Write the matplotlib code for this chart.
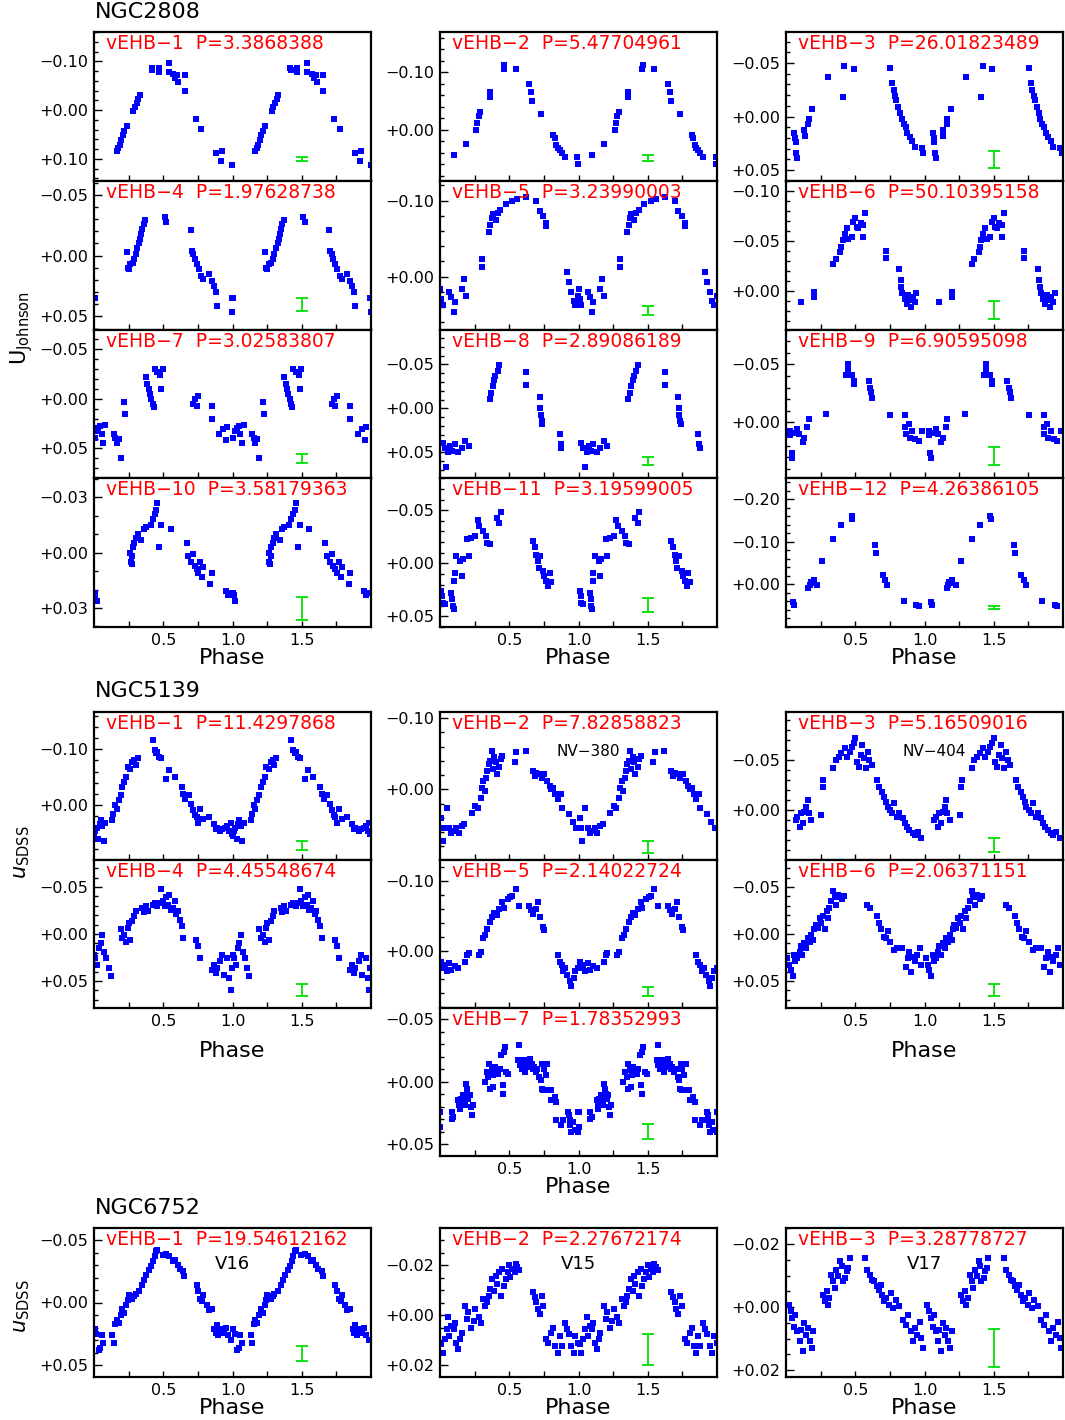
import matplotlib
matplotlib.use("Agg")
import matplotlib.pyplot as plt
from matplotlib.ticker import FixedLocator, FuncFormatter, MultipleLocator

# ---------------- data (phase 0-1, drawn twice) ----------------
n2808_1_ph = [0.164, 0.175, 0.186, 0.197, 0.208, 0.219, 0.236, 0.283, 0.295, 0.307, 0.319, 0.331,
              0.416, 0.42, 0.468, 0.468, 0.541, 0.541, 0.572, 0.585, 0.6, 0.608, 0.656, 0.656,
              0.735, 0.776, 0.884, 0.92, 0.927, 0.997]
n2808_1_mag = [0.084, 0.078, 0.071, 0.062, 0.052, 0.043, 0.032, 0.002, -0.006, -0.014, -0.022, -0.030,
               -0.086, -0.082, -0.086, -0.078, -0.096, -0.078, -0.074, -0.065, -0.071, -0.057, -0.071, -0.040,
               0.019, 0.039, 0.089, 0.105, 0.084, 0.113]

n2808_2_ph = [0.098, 0.186, 0.26, 0.27, 0.28, 0.29, 0.36, 0.36, 0.46, 0.465, 0.548, 0.646, 0.66, 0.665,
              0.73, 0.817, 0.83, 0.84, 0.85, 0.865, 0.88, 0.9, 0.99, 0.995]
n2808_2_mag = [0.044, 0.025, 0.0, -0.012, -0.023, -0.030, -0.056, -0.065, -0.106, -0.112, -0.106, -0.080,
               -0.065, -0.050, -0.028, 0.009, 0.015, 0.026, 0.032, 0.035, 0.041, 0.047, 0.047, 0.059]

n2808_3_ph = [0.06, 0.065, 0.07, 0.075, 0.08, 0.13, 0.135, 0.16, 0.165, 0.19, 0.30, 0.41, 0.42, 0.49,
              0.753, 0.768, 0.778, 0.788, 0.797, 0.812, 0.826, 0.836, 0.851, 0.866, 0.876, 0.895, 0.91,
              0.93, 0.98, 0.99]
n2808_3_mag = [0.015, 0.020, 0.024, 0.034, 0.039, 0.013, 0.018, 0.007, 0.002, -0.007, -0.037, -0.018,
               -0.047, -0.044, -0.045, -0.031, -0.025, -0.019, -0.015, -0.009, -0.003, 0.002, 0.007, 0.010,
               0.015, 0.019, 0.023, 0.028, 0.029, 0.034]

n2808_4_ph = [0.005, 0.237, 0.242, 0.252, 0.262, 0.281, 0.291, 0.301, 0.311, 0.325, 0.335, 0.34, 0.35,
              0.359, 0.369, 0.511, 0.521, 0.70, 0.707, 0.717, 0.727, 0.741, 0.756, 0.775, 0.79, 0.83,
              0.849, 0.863, 0.878, 0.888, 0.996, 0.998]
n2808_4_mag = [0.035, -0.003, 0.010, 0.011, 0.007, 0.006, 0.003, -0.001, -0.006, -0.010, -0.014, -0.018,
               -0.022, -0.026, -0.029, -0.032, -0.028, -0.021, -0.004, -0.001, 0.003, 0.007, 0.011, 0.017,
               0.019, 0.015, 0.021, 0.025, 0.030, 0.041, 0.035, 0.046]

n2808_5_ph = [0.0, 0.01, 0.02, 0.068, 0.083, 0.098, 0.108, 0.157, 0.171, 0.186, 0.303, 0.303, 0.352,
              0.362, 0.372, 0.382, 0.401, 0.416, 0.435, 0.474, 0.523, 0.558, 0.621, 0.695, 0.719, 0.744,
              0.768, 0.768, 0.915, 0.93, 0.949, 0.964, 0.978, 0.998]
n2808_5_mag = [0.016, 0.030, 0.038, 0.021, 0.027, 0.047, 0.034, 0.016, 0.003, 0.025, -0.012, -0.023,
               -0.059, -0.068, -0.077, -0.082, -0.075, -0.083, -0.088, -0.095, -0.100, -0.102, -0.104,
               -0.100, -0.086, -0.079, -0.070, -0.066, -0.006, 0.0075, 0.021, 0.032, 0.038, 0.025]

n2808_6_ph = [0.105, 0.2, 0.2, 0.34, 0.36, 0.39, 0.40, 0.41, 0.425, 0.44, 0.45, 0.475, 0.485, 0.50,
              0.51, 0.523, 0.538, 0.557, 0.572, 0.557, 0.72, 0.72, 0.817, 0.827, 0.832, 0.841, 0.856,
              0.871, 0.881, 0.89, 0.905, 0.915, 0.93, 0.939]
n2808_6_mag = [0.011, 0.001, 0.006, -0.027, -0.032, -0.039, -0.044, -0.051, -0.057, -0.063, -0.052,
               -0.054, -0.069, -0.073, -0.064, -0.063, -0.068, -0.066, -0.078, -0.054, -0.040, -0.033,
               -0.022, -0.011, -0.004, 0.002, 0.008, 0.013, 0.004, 0.009, 0.016, 0.006, 0.011, 0.002]

n2808_7_ph = [0.007, 0.017, 0.032, 0.046, 0.056, 0.066, 0.081, 0.144, 0.154, 0.164, 0.178, 0.193,
              0.218, 0.227, 0.374, 0.384, 0.394, 0.404, 0.413, 0.423, 0.433, 0.438, 0.457, 0.477, 0.487,
              0.497, 0.717, 0.731, 0.751, 0.741, 0.849, 0.849, 0.905, 0.935, 0.955, 0.961]
n2808_7_mag = [0.039, 0.032, 0.029, 0.027, 0.035, 0.044, 0.026, 0.035, 0.039, 0.044, 0.040, 0.060,
               0.003, 0.015, -0.022, -0.015, -0.010, -0.005, 0.0, 0.005, 0.008, -0.030, -0.027, -0.024,
               -0.010, -0.030, 0.005, 0.0, -0.003, 0.007, 0.007, 0.020, 0.035, 0.030, 0.041, 0.028]

n2808_8_ph = [0.02, 0.034, 0.044, 0.059, 0.073, 0.088, 0.108, 0.132, 0.157, 0.181, 0.206, 0.36, 0.37,
              0.38, 0.39, 0.40, 0.416, 0.426, 0.621, 0.621, 0.72, 0.724, 0.729, 0.734, 0.739, 0.866,
              0.871, 0.876]
n2808_8_mag = [0.039, 0.045, 0.067, 0.050, 0.043, 0.048, 0.041, 0.050, 0.045, 0.037, 0.043, -0.011,
               -0.018, -0.026, -0.032, -0.037, -0.043, -0.049, -0.041, -0.027, -0.013, -0.001, 0.007,
               0.014, 0.018, 0.029, 0.041, 0.045]

n2808_9_ph = [0.03, 0.03, 0.04, 0.045, 0.065, 0.08, 0.095, 0.12, 0.13, 0.155, 0.165, 0.29, 0.43, 0.445,
              0.445, 0.475, 0.49, 0.49, 0.597, 0.607, 0.617, 0.621, 0.753, 0.861, 0.861, 0.866, 0.886,
              0.895, 0.91, 0.934, 0.959, 0.983]
n2808_9_mag = [0.007, 0.011, 0.026, 0.031, 0.009, 0.006, 0.010, 0.017, 0.013, 0.004, -0.003, -0.007,
               -0.041, -0.046, -0.050, -0.041, -0.036, -0.033, -0.036, -0.030, -0.026, -0.021, -0.006,
               -0.006, 0.004, 0.010, 0.001, 0.013, 0.007, 0.014, 0.016, 0.007]

n2808_10_ph = [0.005, 0.01, 0.02, 0.262, 0.267, 0.272, 0.276, 0.281, 0.291, 0.301, 0.316, 0.34, 0.36,
               0.374, 0.408, 0.423, 0.438, 0.448, 0.457, 0.472, 0.487, 0.555, 0.668, 0.682, 0.702,
               0.717, 0.727, 0.741, 0.751, 0.766, 0.78, 0.79, 0.849, 0.839, 0.952, 0.966, 0.986]
n2808_10_mag = [0.022, 0.023, 0.026, 0.0, 0.005, 0.006, 0.002, -0.003, -0.005, -0.008, -0.010, -0.007,
                -0.013, -0.014, -0.015, -0.018, -0.021, -0.023, -0.027, -0.003, -0.015, -0.013, -0.005,
                0.002, 0.005, 0.001, 0.007, 0.009, 0.011, 0.005, 0.013, 0.008, 0.011, 0.017, 0.021,
                0.023, 0.022]

n2808_11_ph = [0.01, 0.015, 0.02, 0.034, 0.083, 0.088, 0.093, 0.098, 0.103, 0.108, 0.117, 0.147, 0.157,
               0.166, 0.196, 0.206, 0.225, 0.255, 0.274, 0.284, 0.313, 0.333, 0.342, 0.362, 0.411,
               0.426, 0.44, 0.67, 0.685, 0.695, 0.705, 0.714, 0.724, 0.744, 0.753, 0.768, 0.783,
               0.793, 0.802]
n2808_11_mag = [0.026, 0.031, 0.037, 0.038, 0.028, 0.034, 0.040, 0.043, 0.017, 0.009, -0.007, -0.002,
                0.012, -0.004, -0.023, -0.007, -0.024, -0.026, -0.041, -0.035, -0.030, -0.026, -0.019,
                -0.018, -0.043, -0.038, -0.048, -0.021, -0.015, -0.008, -0.002, 0.004, -0.007, 0.007,
                0.012, 0.017, 0.021, 0.009, 0.018]

n2808_12_ph = [0.05, 0.055, 0.16, 0.17, 0.18, 0.19, 0.20, 0.225, 0.26, 0.34, 0.40, 0.475, 0.48, 0.645,
               0.65, 0.70, 0.715, 0.73, 0.85, 0.94, 0.96]
n2808_12_mag = [0.041, 0.049, 0.010, 0.002, -0.005, -0.002, -0.009, 0.002, -0.054, -0.107, -0.138,
                -0.161, -0.153, -0.091, -0.072, -0.021, -0.009, 0.002, 0.040, 0.049, 0.051]

n5139_1_ph = [0.0, 0.01, 0.02, 0.03, 0.04, 0.05, 0.06, 0.07, 0.08, 0.13, 0.14, 0.154, 0.164, 0.18,
              0.193, 0.203, 0.218, 0.232, 0.242, 0.262, 0.276, 0.291, 0.30, 0.315, 0.423, 0.438, 0.448,
              0.457, 0.472, 0.487, 0.521, 0.545, 0.584, 0.633, 0.643, 0.658, 0.683, 0.702, 0.717,
              0.731, 0.741, 0.751, 0.766, 0.79, 0.83, 0.863, 0.878, 0.888, 0.912, 0.927, 0.947, 0.961,
              0.976, 0.986, 0.995]
n5139_1_mag = [0.056, 0.047, 0.041, 0.062, 0.035, 0.028, 0.038, 0.065, 0.032, 0.028, 0.016, 0.001,
               0.007, -0.008, -0.017, -0.032, -0.041, -0.050, -0.068, -0.065, -0.078, -0.081, -0.072,
               -0.084, -0.117, -0.099, -0.093, -0.096, -0.087, -0.084, -0.047, -0.062, -0.050, -0.032,
               -0.020, -0.011, -0.017, -0.002, 0.010, 0.019, 0.022, 0.032, 0.007, 0.025, 0.022, 0.035,
               0.044, 0.041, 0.047, 0.044, 0.041, 0.038, 0.047, 0.032, 0.053]

n5139_2_ph = [0.01, 0.02, 0.025, 0.049, 0.068, 0.083, 0.098, 0.117, 0.137, 0.157, 0.176, 0.23, 0.254,
              0.274, 0.294, 0.303, 0.313, 0.323, 0.333, 0.342, 0.352, 0.362, 0.372, 0.382, 0.391,
              0.401, 0.411, 0.426, 0.44, 0.45, 0.54, 0.55, 0.62, 0.67, 0.685, 0.695, 0.719, 0.734,
              0.753, 0.773, 0.793, 0.802, 0.817, 0.832, 0.851, 0.871, 0.88, 0.93, 0.96, 0.985]
n5139_2_mag = [0.040, 0.054, 0.073, 0.026, 0.054, 0.061, 0.059, 0.054, 0.061, 0.052, 0.049, 0.033,
               0.023, 0.026, 0.012, -0.002, -0.012, 0.002, -0.016, -0.026, -0.035, -0.040, -0.054,
               -0.028, -0.045, -0.038, -0.021, -0.031, -0.042, -0.047, -0.038, -0.052, -0.054, -0.026,
               -0.019, -0.023, -0.021, -0.016, -0.021, -0.012, -0.005, 0.0, -0.002, 0.007, 0.014,
               0.007, 0.026, 0.035, 0.045, 0.054]

n5139_3_ph = [0.07, 0.083, 0.098, 0.108, 0.122, 0.132, 0.147, 0.157, 0.166, 0.181, 0.255, 0.264,
              0.269, 0.34, 0.36, 0.38, 0.40, 0.425, 0.44, 0.46, 0.475, 0.49, 0.50, 0.51, 0.525, 0.54,
              0.55, 0.56, 0.575, 0.59, 0.60, 0.62, 0.66, 0.675, 0.695, 0.71, 0.724, 0.734, 0.754,
              0.768, 0.783, 0.802, 0.817, 0.842, 0.856, 0.871, 0.89, 0.915, 0.93, 0.95, 0.978]
n5139_3_mag = [0.010, 0.007, 0.017, 0.003, 0.013, 0.002, -0.003, -0.010, 0.003, 0.010, 0.005, -0.023,
               -0.030, -0.042, -0.050, -0.053, -0.057, -0.062, -0.053, -0.058, -0.063, -0.067, -0.072,
               -0.048, -0.043, -0.055, -0.065, -0.052, -0.042, -0.058, -0.050, -0.045, -0.030, -0.023,
               -0.018, -0.013, -0.008, -0.003, 0.0, 0.003, -0.007, 0.007, 0.003, 0.008, 0.013, 0.017,
               0.020, 0.023, 0.025, 0.022, 0.028]

n5139_4_ph = [0.0, 0.01, 0.024, 0.039, 0.049, 0.059, 0.073, 0.088, 0.108, 0.122, 0.193, 0.203, 0.218,
              0.232, 0.242, 0.252, 0.262, 0.276, 0.291, 0.30, 0.35, 0.36, 0.374, 0.389, 0.423, 0.438,
              0.457, 0.472, 0.487, 0.496, 0.511, 0.521, 0.536, 0.545, 0.555, 0.57, 0.584, 0.594,
              0.604, 0.619, 0.633, 0.643, 0.74, 0.751, 0.766, 0.849, 0.863, 0.878, 0.888, 0.912,
              0.927, 0.937, 0.961, 0.976, 0.986, 0.995]
n5139_4_mag = [0.022, 0.026, 0.033, 0.015, 0.010, 0.001, 0.019, 0.026, 0.036, 0.045, -0.005, 0.004,
               0.001, 0.008, -0.006, -0.012, 0.006, -0.014, -0.019, -0.024, -0.028, -0.023, -0.030,
               -0.024, -0.031, -0.033, -0.030, -0.033, -0.048, -0.035, -0.030, -0.039, -0.031, -0.042,
               -0.026, -0.028, -0.035, -0.021, -0.024, -0.015, -0.008, 0.004, 0.006, 0.013, 0.026,
               0.038, 0.033, 0.042, 0.036, 0.029, 0.022, 0.044, 0.026, 0.047, 0.060, 0.036]

n5139_5_ph = [0.01, 0.02, 0.034, 0.049, 0.068, 0.083, 0.108, 0.132, 0.181, 0.196, 0.206, 0.279, 0.294,
              0.313, 0.328, 0.342, 0.362, 0.377, 0.391, 0.411, 0.426, 0.45, 0.46, 0.489, 0.509, 0.523,
              0.548, 0.572, 0.646, 0.66, 0.675, 0.695, 0.709, 0.724, 0.744, 0.753, 0.851, 0.866,
              0.88, 0.89, 0.905, 0.92, 0.939, 0.949, 0.964, 0.978, 0.998]
n5139_5_mag = [0.015, 0.024, 0.020, 0.029, 0.017, 0.027, 0.022, 0.024, 0.015, 0.006, 0.003, 0.006,
               0.001, -0.018, -0.023, -0.032, -0.041, -0.048, -0.055, -0.051, -0.060, -0.070, -0.062,
               -0.074, -0.077, -0.079, -0.088, -0.065, -0.065, -0.058, -0.053, -0.060, -0.070, -0.048,
               -0.034, -0.030, 0.006, 0.015, 0.020, 0.029, 0.024, 0.034, 0.043, 0.050, 0.039, 0.029,
               0.024]

n5139_6_ph = [0.01, 0.024, 0.034, 0.049, 0.059, 0.068, 0.083, 0.098, 0.108, 0.117, 0.132, 0.147,
              0.157, 0.171, 0.181, 0.196, 0.205, 0.215, 0.23, 0.245, 0.254, 0.264, 0.279, 0.294,
              0.303, 0.313, 0.328, 0.342, 0.352, 0.362, 0.377, 0.391, 0.401, 0.416, 0.587, 0.607,
              0.655, 0.67, 0.685, 0.705, 0.719, 0.734, 0.753, 0.783, 0.802, 0.841, 0.866, 0.88, 0.89,
              0.905, 0.915, 0.93, 0.949, 0.964, 0.978]
n5139_6_mag = [0.026, 0.033, 0.038, 0.045, 0.022, 0.029, 0.026, 0.019, 0.013, 0.022, 0.010, 0.015,
               0.004, 0.008, 0.001, 0.006, -0.005, -0.010, -0.006, -0.017, -0.012, -0.019, -0.005,
               -0.024, -0.017, -0.028, -0.035, -0.046, -0.039, -0.031, -0.042, -0.039, -0.037, -0.040,
               -0.031, -0.028, -0.019, -0.012, -0.005, 0.003, 0.004, -0.003, 0.008, 0.017, 0.015,
               0.015, 0.035, 0.026, 0.019, 0.040, 0.024, 0.029, 0.022, 0.015, 0.033]

n5139_7_ph = [0.0, 0.0, 0.084, 0.084, 0.096, 0.132, 0.139, 0.144, 0.151, 0.156, 0.163, 0.173, 0.18,
              0.187, 0.192, 0.197, 0.204, 0.216, 0.228, 0.235, 0.221, 0.324, 0.336, 0.348, 0.356,
              0.36, 0.372, 0.38, 0.384, 0.396, 0.408, 0.42, 0.432, 0.444, 0.452, 0.456, 0.461, 0.468,
              0.48, 0.492, 0.572, 0.564, 0.576, 0.589, 0.596, 0.605, 0.615, 0.625, 0.637, 0.649,
              0.661, 0.668, 0.677, 0.692, 0.702, 0.716, 0.726, 0.74, 0.75, 0.764, 0.733, 0.745, 0.774,
              0.781, 0.798, 0.805, 0.829, 0.841, 0.841, 0.877, 0.889, 0.925, 0.932, 0.937, 0.942,
              0.949, 0.961, 0.973, 0.997, 0.999]
n5139_7_mag = [0.024, 0.036, 0.024, 0.030, 0.028, 0.015, 0.019, 0.022, 0.014, 0.016, 0.011, 0.015,
               0.019, 0.002, 0.006, 0.010, 0.014, 0.011, 0.027, 0.019, 0.020, 0.000, -0.008, -0.004,
               -0.014, 0.006, -0.009, 0.004, -0.005, -0.012, -0.009, -0.006, -0.010, -0.021, 0.003,
               0.010, -0.024, -0.028, -0.008, -0.006, -0.029, -0.017, -0.013, -0.010, -0.014, -0.017,
               -0.008, -0.012, -0.016, -0.018, -0.014, -0.010, -0.012, -0.008, -0.010, -0.004, -0.001,
               -0.014, -0.010, -0.005, 0.006, 0.007, -0.014, 0.007, 0.007, 0.015, 0.012, 0.016, 0.031,
               0.035, 0.031, 0.024, 0.027, 0.031, 0.035, 0.040, 0.032, 0.039, 0.040, 0.024]

n6752_1_ph = [0.007, 0.017, 0.035, 0.046, 0.056, 0.066, 0.13, 0.144, 0.154, 0.164, 0.178, 0.193,
              0.203, 0.218, 0.232, 0.242, 0.252, 0.276, 0.291, 0.301, 0.325, 0.35, 0.364, 0.379,
              0.399, 0.413, 0.428, 0.438, 0.448, 0.457, 0.496, 0.521, 0.545, 0.57, 0.584, 0.604,
              0.619, 0.643, 0.653, 0.741, 0.751, 0.766, 0.78, 0.79, 0.815, 0.829, 0.849, 0.868,
              0.878, 0.888, 0.898, 0.912, 0.937, 0.952, 0.966, 0.986]
n6752_1_mag = [0.021, 0.025, 0.038, 0.036, 0.026, 0.032, 0.026, 0.032, 0.017, 0.014, 0.016, 0.010,
               0.005, 0.008, 0.002, -0.002, -0.006, -0.003, -0.005, -0.007, -0.009, -0.014, -0.018,
               -0.022, -0.026, -0.029, -0.033, -0.037, -0.041, -0.042, -0.038, -0.039, -0.037,
               -0.033, -0.034, -0.030, -0.027, -0.025, -0.021, -0.014, -0.009, -0.003, -0.001, -0.006,
               0.002, 0.006, 0.005, 0.021, 0.024, 0.018, 0.026, 0.021, 0.024, 0.020, 0.026, 0.030]

n6752_2_ph = [0.01, 0.02, 0.034, 0.049, 0.059, 0.068, 0.083, 0.098, 0.108, 0.117, 0.132, 0.147,
              0.157, 0.181, 0.196, 0.205, 0.225, 0.245, 0.254, 0.279, 0.294, 0.313, 0.328, 0.342,
              0.352, 0.362, 0.377, 0.391, 0.401, 0.411, 0.426, 0.44, 0.45, 0.46, 0.474, 0.489, 0.499,
              0.509, 0.523, 0.538, 0.548, 0.558, 0.572, 0.67, 0.685, 0.695, 0.705, 0.719, 0.734, 0.744,
              0.768, 0.783, 0.802, 0.817, 0.832, 0.851, 0.866, 0.88, 0.9, 0.915, 0.93, 0.949, 0.964,
              0.978, 0.998]
n6752_2_mag = [0.0117, 0.0150, 0.0097, 0.0056, 0.0009, 0.0083, 0.0043, 0.0056, 0.0030, 0.0110,
               0.0137, 0.0097, 0.0070, -0.0038, 0.0016, -0.0011, 0.0050, 0.0023, -0.0024, 0.0009,
               0.0030, -0.0064, -0.0038, -0.0051, -0.0078, -0.0105, -0.0145, -0.0098, -0.0158,
               -0.0125, -0.0172, -0.0078, -0.0185, -0.0118, -0.0145, -0.0172, -0.0199, -0.0151,
               -0.0185, -0.0172, -0.0205, -0.0192, -0.0179, -0.0091, -0.0071, -0.0051, -0.0024,
               -0.0004, -0.0078, -0.0038, 0.0097, 0.0110, 0.0070, 0.0050, 0.0123, 0.0150, 0.0083,
               0.0124, 0.0030, 0.0056, 0.0077, 0.0124, 0.0150, 0.0083, 0.0110]

n6752_3_ph = [0.02, 0.034, 0.044, 0.059, 0.068, 0.083, 0.098, 0.108, 0.122, 0.132, 0.147, 0.157,
              0.171, 0.186, 0.196, 0.264, 0.279, 0.294, 0.303, 0.313, 0.328, 0.342, 0.352, 0.362,
              0.377, 0.391, 0.401, 0.411, 0.426, 0.44, 0.45, 0.46, 0.572, 0.587, 0.607, 0.621, 0.636,
              0.655, 0.67, 0.685, 0.695, 0.709, 0.724, 0.744, 0.758, 0.773, 0.793, 0.817, 0.842,
              0.866, 0.88, 0.9, 0.915, 0.93, 0.949, 0.964, 0.978, 0.988]
n6752_3_mag = [-0.0007, 0.0014, 0.0035, 0.0062, 0.0024, 0.0077, 0.0109, 0.0072, 0.0141, 0.0051,
               0.0088, 0.0067, 0.0109, 0.0130, 0.0077, -0.0039, -0.0018, -0.0050, -0.0007, -0.0029,
               -0.0103, -0.0082, -0.0060, -0.0119, -0.0098, -0.0145, -0.0129, -0.0082, -0.0092,
               -0.0114, -0.0124, -0.0156, -0.0156, -0.0119, -0.0103, -0.0087, -0.0082, -0.0066,
               -0.0055, -0.0071, -0.0039, -0.0018, -0.0029, -0.0007, -0.0045, 0.0003, -0.0023,
               -0.0002, 0.0040, 0.0056, 0.0024, 0.0077, 0.0109, 0.0067, 0.0088, 0.0046, 0.0099, 0.0130]

# ---------------- layout ----------------
W, H = 1065, 1420
cols = [94, 440, 786]
pw = 277
BLUE = '#0000ff'
GREEN = '#00e000'
RED = '#ff0000'

# (name, P, ph, mag, col, top, bottom, ylim(bottom, top), yticks, minor, err_c, err_h,
#  Phase labelpad (None = no x labels), note)
panels = [
    ('vEHB−1', '3.3868388', n2808_1_ph, n2808_1_mag, 0, 32, 180.75, (0.145, -0.16), [-0.1, 0.0, 0.1], 0.02, 0.100, 0.004, None, None),
    ('vEHB−2', '5.47704961', n2808_2_ph, n2808_2_mag, 1, 32, 180.75, (0.089, -0.170), [-0.1, 0.0], 0.02, 0.049, 0.005, None, None),
    ('vEHB−3', '26.01823489', n2808_3_ph, n2808_3_mag, 2, 32, 180.75, (0.060, -0.079), [-0.05, 0.0, 0.05], 0.01, 0.040, 0.008, None, None),
    ('vEHB−4', '1.97628738', n2808_4_ph, n2808_4_mag, 0, 180.75, 329.5, (0.0607, -0.0615), [-0.05, 0.0, 0.05], 0.01, 0.040, 0.0053, None, None),
    ('vEHB−5', '3.23990003', n2808_5_ph, n2808_5_mag, 1, 180.75, 329.5, (0.0697, -0.126), [-0.1, 0.0], 0.02, 0.0447, 0.0053, None, None),
    ('vEHB−6', '50.10395158', n2808_6_ph, n2808_6_mag, 2, 180.75, 329.5, (0.039, -0.11), [-0.1, -0.05, 0.0], 0.01, 0.019, 0.009, None, None),
    ('vEHB−7', '3.02583807', n2808_7_ph, n2808_7_mag, 0, 329.5, 478.25, (0.080, -0.070), [-0.05, 0.0, 0.05], 0.01, 0.060, 0.0045, None, None),
    ('vEHB−8', '2.89086189', n2808_8_ph, n2808_8_mag, 1, 329.5, 478.25, (0.0795, -0.0898), [-0.05, 0.0, 0.05], 0.01, 0.060, 0.0045, None, None),
    ('vEHB−9', '6.90595098', n2808_9_ph, n2808_9_mag, 2, 329.5, 478.25, (0.048, -0.080), [-0.05, 0.0], 0.01, 0.029, 0.0078, None, None),
    ('vEHB−10', '3.58179363', n2808_10_ph, n2808_10_mag, 0, 478.25, 627, (0.0403, -0.0403), [-0.03, 0.0, 0.03], 0.01, 0.0305, 0.0062, 0, None),
    ('vEHB−11', '3.19599005', n2808_11_ph, n2808_11_mag, 1, 478.25, 627, (0.060, -0.080), [-0.05, 0.0, 0.05], 0.01, 0.0396, 0.0066, 0, None),
    ('vEHB−12', '4.26386105', n2808_12_ph, n2808_12_mag, 2, 478.25, 627, (0.101, -0.249), [-0.2, -0.1, 0.0], 0.02, 0.055, 0.0035, 0, None),
    ('vEHB−1', '11.4297868', n5139_1_ph, n5139_1_mag, 0, 712, 860, (0.099, -0.167), [-0.1, 0.0], 0.02, 0.073, 0.0073, None, None),
    ('vEHB−2', '7.82858823', n5139_2_ph, n5139_2_mag, 1, 712, 860, (0.099, -0.1086), [-0.1, 0.0], 0.02, 0.0807, 0.0079, None, 'NV−380'),
    ('vEHB−3', '5.16509016', n5139_3_ph, n5139_3_mag, 2, 712, 860, (0.05, -0.098), [-0.05, 0.0], 0.01, 0.035, 0.007, None, 'NV−404'),
    ('vEHB−4', '4.45548674', n5139_4_ph, n5139_4_mag, 0, 860, 1008, (0.0787, -0.0787), [-0.05, 0.0, 0.05], 0.01, 0.0596, 0.0064, 9, None),
    ('vEHB−5', '2.14022724', n5139_5_ph, n5139_5_mag, 1, 860, 1008, (0.0814, -0.13), [-0.1, 0.0], 0.02, 0.058, 0.0064, None, None),
    ('vEHB−6', '2.06371151', n5139_6_ph, n5139_6_mag, 2, 860, 1008, (0.0787, -0.0787), [-0.05, 0.0, 0.05], 0.01, 0.0596, 0.0064, 9, None),
    ('vEHB−7', '1.78352993', n5139_7_ph, n5139_7_mag, 1, 1008, 1156, (0.0596, -0.0588), [-0.05, 0.0, 0.05], 0.01, 0.0396, 0.006, 0, None),
    ('vEHB−1', '19.54612162', n6752_1_ph, n6752_1_mag, 0, 1228, 1377, (0.0596, -0.0596), [-0.05, 0.0, 0.05], 0.01, 0.0404, 0.006, 0, 'V16'),
    ('vEHB−2', '2.27672174', n6752_2_ph, n6752_2_mag, 1, 1228, 1377, (0.0248, -0.0348), [-0.02, 0.0, 0.02], 0.005, 0.0138, 0.0062, 0, 'V15'),
    ('vEHB−3', '3.28778727', n6752_3_ph, n6752_3_mag, 2, 1228, 1377, (0.0222, -0.0251), [-0.02, 0.0, 0.02], 0.005, 0.013, 0.006, 0, 'V17'),
]


def ylab(v, pos):
    if abs(v) < 1e-9:
        return '+0.00'
    return ('−%.2f' % abs(v)) if v < 0 else ('+%.2f' % v)


fig = plt.figure(figsize=(W / 100, H / 100), dpi=100)

for name, per, ph, mag, col, top, bot, ylim, yt, mn, ec, eh, lp, note in panels:
    ax = fig.add_axes([cols[col] / W, 1 - bot / H, pw / W, (bot - top) / H])
    xs = list(ph) + [p + 1 for p in ph]
    ys = list(mag) + list(mag)
    ax.plot(xs, ys, 's', color=BLUE, ms=4.4, mew=0)
    ax.errorbar([1.5], [ec], yerr=[eh], color=GREEN, lw=1.3, capsize=4, capthick=1.3)
    ax.set_xlim(0, 2)
    ax.set_ylim(*ylim)
    ax.xaxis.set_major_locator(FixedLocator([0.5, 1.0, 1.5]))
    ax.xaxis.set_minor_locator(FixedLocator([0.25, 0.75, 1.25, 1.75]))
    ax.yaxis.set_major_locator(FixedLocator(yt))
    ax.yaxis.set_minor_locator(MultipleLocator(mn))
    ax.yaxis.set_major_formatter(FuncFormatter(ylab))
    ax.tick_params(which='both', direction='in', top=False, right=False, width=1.0, labelsize=11.5)
    ax.tick_params(axis='y', which='major', length=5.5, pad=4)
    ax.tick_params(axis='y', which='minor', length=3)
    ax.tick_params(axis='x', which='both', length=4.5, pad=4)
    if lp is not None:
        ax.set_xticklabels(['0.5', '1.0', '1.5'])
        ax.set_xlabel('Phase', fontsize=16, labelpad=lp)
    else:
        ax.set_xticklabels([])
    for s in ax.spines.values():
        s.set_linewidth(1.6)
    ax.text(0.045, 0.985, name + '  P=' + per, transform=ax.transAxes, color=RED,
            fontsize=13.5, va='top', ha='left')
    if note is not None:
        big = note.startswith('V')
        ax.text(0.5 if big else 0.534, 0.76 if big else 0.735, note, transform=ax.transAxes,
                fontsize=13 if big else 11, ha='center', va='center')

# cluster names
for txt, y in [('NGC2808', 12), ('NGC5139', 691), ('NGC6752', 1208)]:
    fig.text(95 / W, 1 - y / H, txt, fontsize=16, ha='left', va='center')

# y labels
fig.text(22 / W, 1 - 328 / H, r'U$_{\rm Johnson}$', rotation=90, fontsize=15, ha='center', va='center')
fig.text(22 / W, 1 - 852 / H, r'$u_{\rm SDSS}$', rotation=90, fontsize=15, ha='center', va='center')
fig.text(22 / W, 1 - 1306 / H, r'$u_{\rm SDSS}$', rotation=90, fontsize=15, ha='center', va='center')

fig.savefig('out.png', dpi=100)
